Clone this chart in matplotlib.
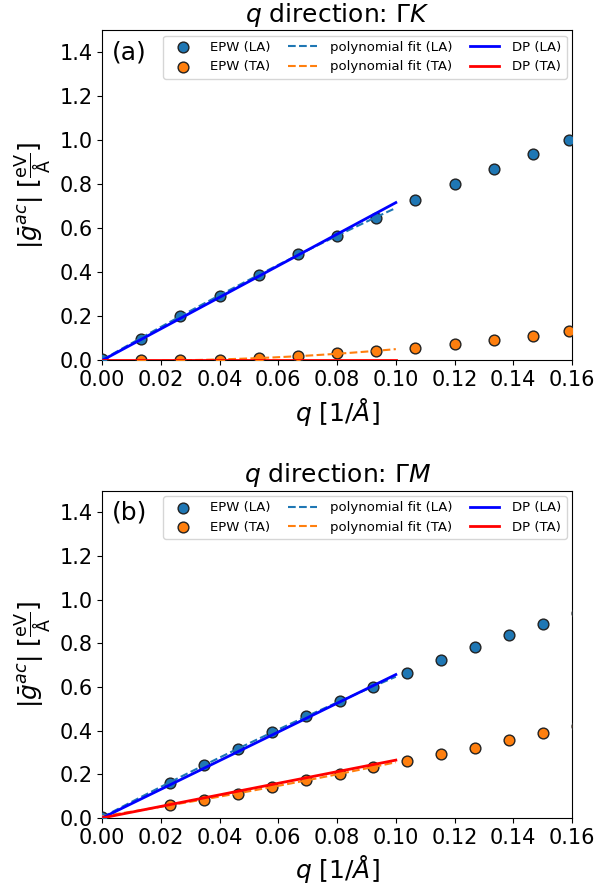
import numpy as np
import matplotlib.pyplot as plt

# Gamma-K direction
q_gk = [0.0, 0.01333, 0.02667, 0.04, 0.05333, 0.06667, 0.08, 0.09333,
        0.10667, 0.12, 0.13333, 0.14667, 0.159]
g_la_gk = [0.005, 0.099, 0.200, 0.294, 0.390, 0.482, 0.567, 0.649,
           0.727, 0.800, 0.871, 0.940, 1.000]
q_gk_ta = q_gk[1:]
g_ta_gk = [0.0, 0.0, 0.003, 0.010, 0.020, 0.032, 0.042,
           0.056, 0.073, 0.091, 0.112, 0.133]
dp_q = [0.0, 0.1]
dp_la_gk = [0.0, 0.717]
dp_ta_gk = [0.0, 0.0]

# Gamma-M direction
q_gm = [0.0, 0.02309, 0.03464, 0.04619, 0.05774, 0.06928, 0.08083, 0.09238,
        0.10392, 0.11547, 0.12702, 0.13856, 0.15011, 0.16166]
g_la_gm = [0.005, 0.159, 0.243, 0.317, 0.392, 0.465, 0.535, 0.601,
           0.664, 0.723, 0.784, 0.837, 0.889, 0.941]
q_gm_ta = q_gm[1:]
g_ta_gm = [0.061, 0.082, 0.110, 0.143, 0.174, 0.203, 0.232,
           0.261, 0.291, 0.322, 0.357, 0.390, 0.422]
dp_la_gm = [0.0, 0.657]
dp_ta_gm = [0.0, 0.265]


def poly_curve(q, g, qmax=0.1):
    # quadratic fit of the EPW points below qmax
    q = np.array(q)
    g = np.array(g)
    m = q <= qmax
    c = np.polyfit(q[m], g[m], 2)
    qq = np.linspace(0, qmax, 50)
    return qq, np.polyval(c, qq)


def draw_panel(ax, q_la, g_la, q_ta, g_ta, dp_la, dp_ta, title, tag, ta_from=0.0):
    ax.scatter(q_la, g_la, s=60, color='#1f77b4', edgecolor='#222222', linewidth=1,
               label='EPW (LA)', zorder=3)
    ax.scatter(q_ta, g_ta, s=60, color='#ff7f0e', edgecolor='#222222', linewidth=1,
               label='EPW (TA)', zorder=3)
    qq, ff = poly_curve(q_la, g_la)
    ax.plot(qq, ff, '--', color='#1f77b4', lw=1.5, label='polynomial fit (LA)', zorder=4)
    qq, ff = poly_curve(q_ta, g_ta)
    m = qq >= ta_from
    ax.plot(qq[m], ff[m], '--', color='#ff7f0e', lw=1.5, label='polynomial fit (TA)', zorder=4)
    ax.plot(dp_q, dp_la, '-', color='blue', lw=2, label='DP (LA)', zorder=5)
    ax.plot(dp_q, dp_ta, '-', color='red', lw=2, label='DP (TA)', zorder=5)

    ax.set_xlim(0, 0.16)
    ax.set_ylim(0, 1.5)
    ax.set_xticks(np.arange(0, 0.161, 0.02))
    ax.set_yticks(np.arange(0, 1.41, 0.2))
    ax.tick_params(labelsize=15)
    ax.set_xlabel(r'$q$ [1/$\AA$]', fontsize=18)
    ax.set_ylabel(r'$|\bar{g}^{ac}|$ [$\frac{\rm eV}{\rm \AA}$]', fontsize=18)
    ax.set_title(title, fontsize=18)
    ax.text(0.02, 0.97, tag, transform=ax.transAxes, fontsize=18, va='top', ha='left')
    ax.legend(ncol=3, fontsize=9.5, loc='upper right', handlelength=2.2,
              columnspacing=1.3, borderaxespad=0.4, handletextpad=1.0)


fig = plt.figure(figsize=(5.94, 8.92), dpi=100)
ax1 = fig.add_axes([0.172, 0.596, 0.791, 0.370])
ax2 = fig.add_axes([0.172, 0.083, 0.791, 0.367])

draw_panel(ax1, q_gk, g_la_gk, q_gk_ta, g_ta_gk, dp_la_gk, dp_ta_gk,
           r'$q$ direction: $\Gamma K$', '(a)', ta_from=0.02)
draw_panel(ax2, q_gm, g_la_gm, q_gm_ta, g_ta_gm, dp_la_gm, dp_ta_gm,
           r'$q$ direction: $\Gamma M$', '(b)')

fig.savefig('out.png', dpi=100)
